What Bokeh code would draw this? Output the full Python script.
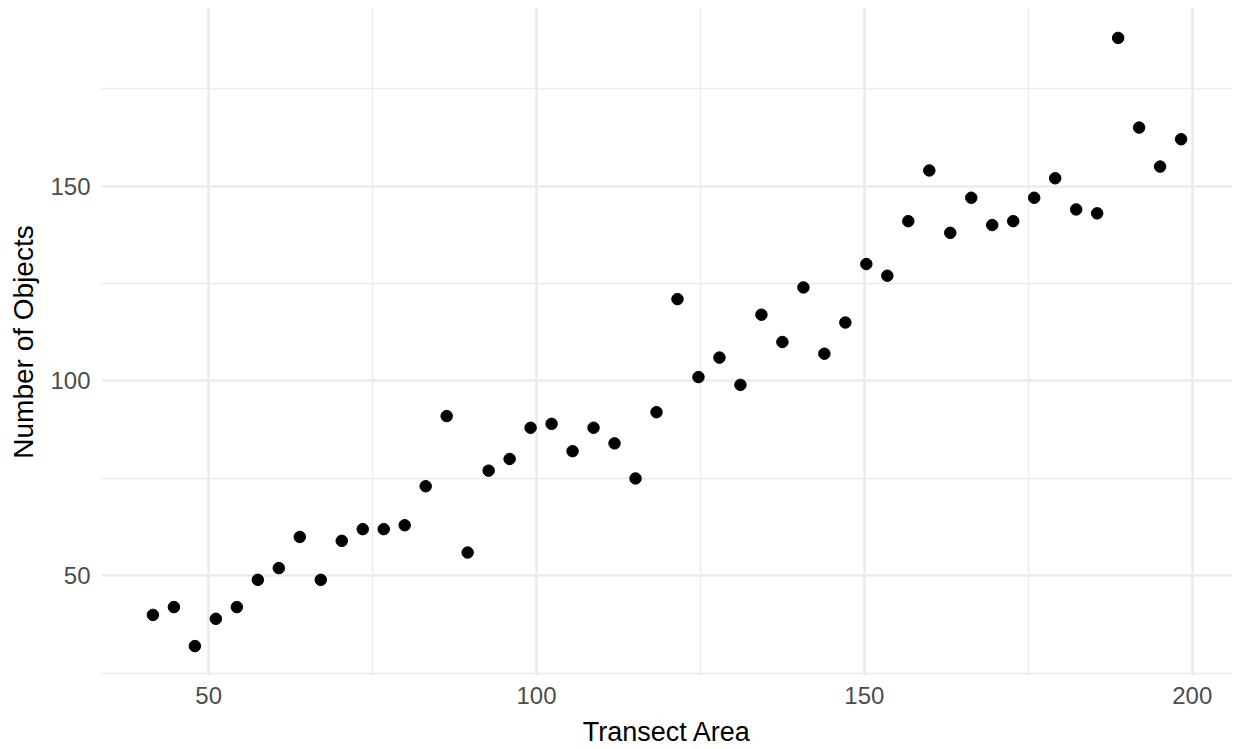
from bokeh.plotting import figure
from bokeh.models import Range1d, FixedTicker
from bokeh.embed import file_html
from bokeh.resources import INLINE

# Data
transect_area = [41.5, 44.7, 47.9, 51.1, 54.3, 57.5, 60.7, 63.9, 67.1, 70.3,
                 73.5, 76.7, 79.9, 83.1, 86.3, 89.5, 92.7, 95.9, 99.1, 102.3,
                 105.5, 108.7, 111.9, 115.1, 118.3, 121.5, 124.7, 127.9, 131.1, 134.3,
                 137.5, 140.7, 143.9, 147.1, 150.3, 153.5, 156.7, 159.9, 163.1, 166.3,
                 169.5, 172.7, 175.9, 179.1, 182.3, 185.5, 188.7, 191.9, 195.1, 198.3]
n_objects = [40, 42, 32, 39, 42, 49, 52, 60, 49, 59,
             62, 62, 63, 73, 91, 56, 77, 80, 88, 89,
             82, 88, 84, 75, 92, 121, 101, 106, 99, 117,
             110, 124, 107, 115, 130, 127, 141, 154, 138, 147,
             140, 141, 147, 152, 144, 143, 188, 165, 155, 162]

x_ticks = [50, 100, 150, 200]
x_minor_ticks = [75, 125, 175]
y_ticks = [50, 100, 150]
y_minor_ticks = [25, 75, 125, 175]

FONT = "Liberation Sans"

p = figure(frame_width=1131, frame_height=669,
           x_range=Range1d(33.66, 206.14), y_range=Range1d(24.2, 195.8),
           output_backend="svg", toolbar_location=None,
           min_border_left=101, min_border_right=4, min_border_top=7, min_border_bottom=73,
           x_axis_label="Transect Area", y_axis_label="Number of Objects")

p.scatter(transect_area, n_objects, size=11.5, fill_color="black", line_color="black")

p.xaxis.ticker = FixedTicker(ticks=x_ticks, minor_ticks=x_minor_ticks)
p.yaxis.ticker = FixedTicker(ticks=y_ticks, minor_ticks=y_minor_ticks)

for ax in (p.xaxis, p.yaxis):
    ax.axis_line_color = None
    ax.major_tick_line_color = None
    ax.minor_tick_line_color = None
    ax.major_tick_out = 0
    ax.major_tick_in = 0
    ax.minor_tick_out = 0
    ax.minor_tick_in = 0
    ax.major_label_text_font = FONT
    ax.major_label_text_font_size = "24px"
    ax.major_label_text_color = "#4D4D4D"
    ax.axis_label_text_font = FONT
    ax.axis_label_text_font_style = "normal"
    ax.axis_label_text_color = "black"

p.xaxis.axis_label_text_font_size = "27px"
p.yaxis.axis_label_text_font_size = "28px"
p.xaxis.major_label_standoff = 10
p.xaxis.axis_label_standoff = 10
p.yaxis.major_label_standoff = 11
p.yaxis.axis_label_standoff = 8

for g in (p.xgrid, p.ygrid):
    g.grid_line_color = "#EBEBEB"
    g.grid_line_width = 2.5
    g.minor_grid_line_color = "#EBEBEB"
    g.minor_grid_line_width = 1.3

p.outline_line_color = None
p.background_fill_color = "white"
p.border_fill_color = "white"

open("out.html", "w").write(file_html(p, INLINE))
